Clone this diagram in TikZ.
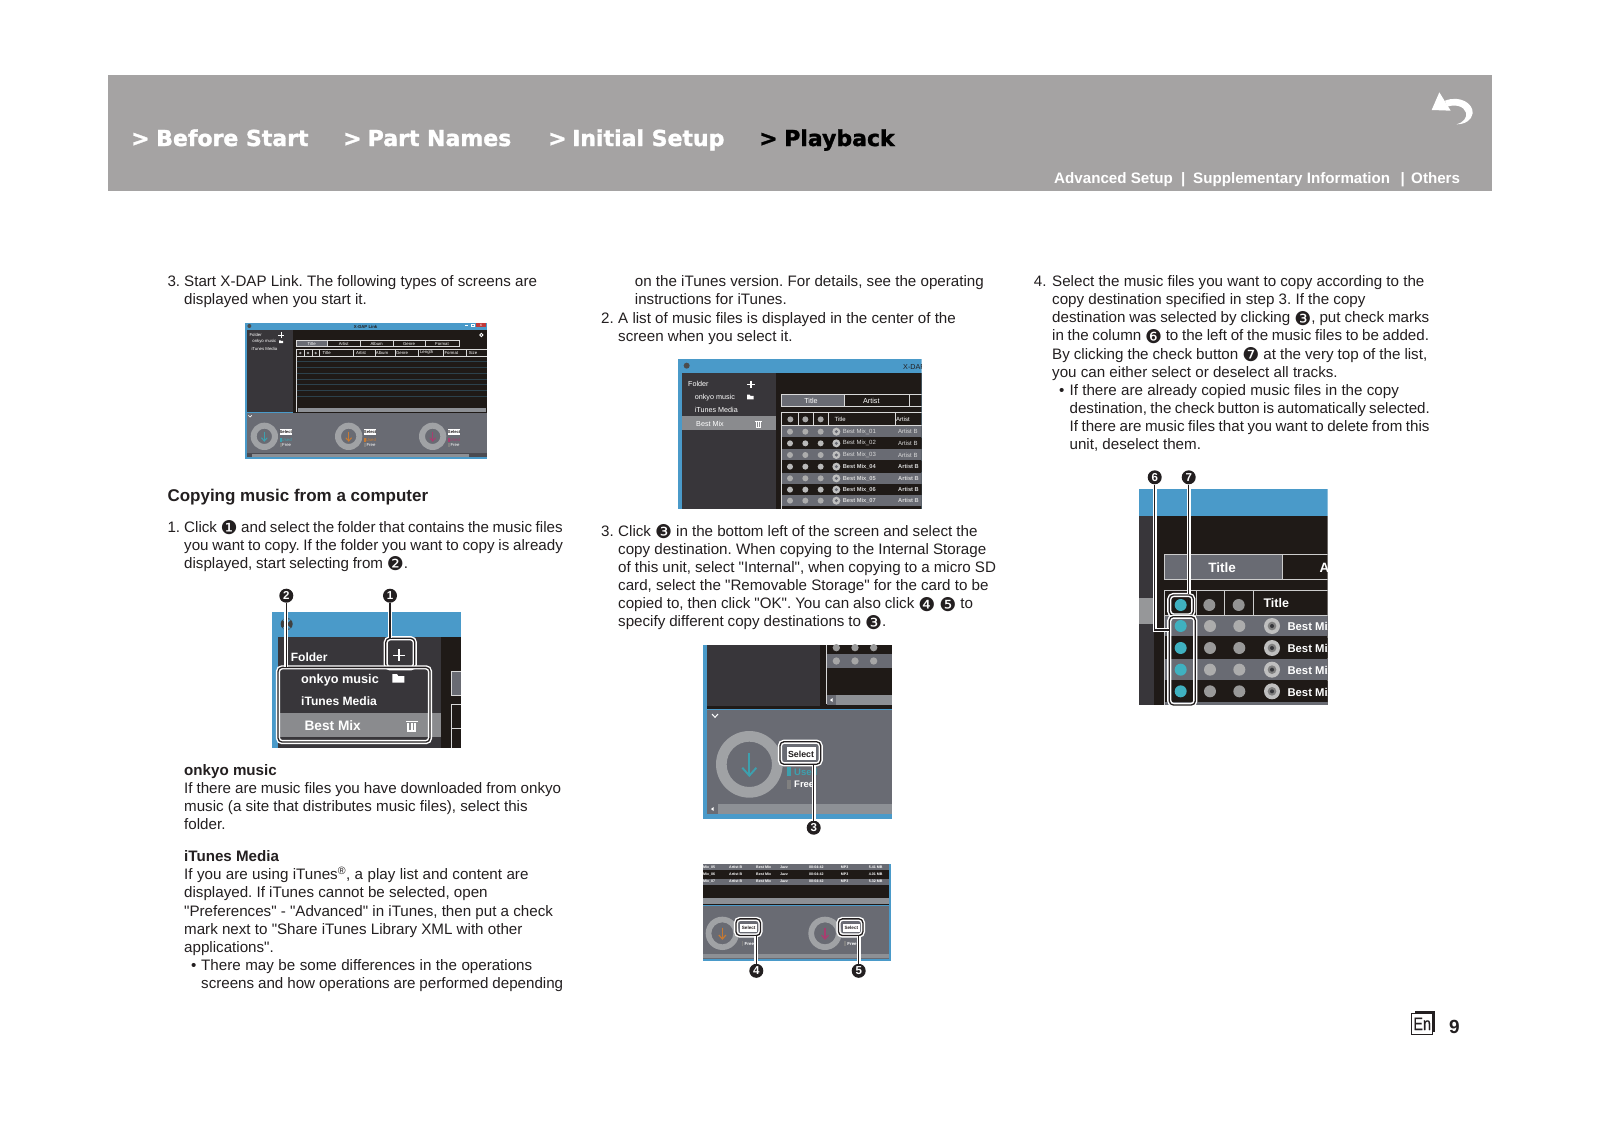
\documentclass[tikz,border=0pt]{standalone}
\usepackage{fontspec}
\setmainfont{Liberation Sans}
\newfontfamily\plainfont{Liberation Sans}
\newfontfamily\dejafont{DejaVu Sans}
\newfontfamily\dejabold[FakeBold=1.5]{DejaVu Sans Bold}
\newfontfamily\enfont[FakeStretch=.8,FakeBold=.4]{Liberation Sans}
\definecolor{ink}{HTML}{231F20}
\definecolor{bannergrey}{HTML}{A5A3A3}
\definecolor{winblue}{HTML}{4A9AC9}
\definecolor{panel}{HTML}{38363A}
\definecolor{blackbg}{HTML}{1F1A17}
\definecolor{rowgrey}{HTML}{696B73}
\definecolor{selgrey}{HTML}{8A8B8E}
\definecolor{scrollgrey}{HTML}{8D9095}
\definecolor{ringgrey}{HTML}{A0A2A5}
\definecolor{teal1}{HTML}{3DA0AE}
\definecolor{teal2}{HTML}{3FB1C0}
\definecolor{orange1}{HTML}{C87A32}
\definecolor{magenta1}{HTML}{A83D6F}
\newcommand{\bfs}[1]{\lower2.4pt\hbox{\dejafont\fontsize{19}{18.15}\selectfont #1}}
\newcommand{\sq}[2]{{\spaceskip=\dimexpr\fontdimen2\font-#1pt\relax #2}}
\newcommand{\fs}[1]{\fontsize{#1}{#1}\selectfont}
% dial: x y R r colour arrow half length arrow width
\newcommand{\dial}[7]{%
  \fill[ringgrey,even odd rule] (#1,#2) circle (#3) (#1,#2) circle (#4);
  \draw[#5,line width=#7pt] ({#1},{#2-#6}) -- ({#1},{#2+#6});
  \draw[#5,line width=#7pt] ({#1-.62*#6},{#2+.3*#6}) -- ({#1},{#2+#6}) -- ({#1+.62*#6},{#2+.3*#6});}
\newcommand{\plusicon}[4]{\draw[white,line width=#4pt] ({#1-#3},#2) -- ({#1+#3},#2) ({#1},{#2-#3}) -- ({#1},{#2+#3});}
\newcommand{\foldericon}[3]{\fill[white] ({#1-#3},{#2-.7*#3}) -- ({#1-.2*#3},{#2-.7*#3}) -- ({#1},{#2-.35*#3}) -- ({#1+#3},{#2-.35*#3}) -- ({#1+#3},{#2+.7*#3}) -- ({#1-#3},{#2+.7*#3}) -- cycle;}
\newcommand{\trashicon}[3]{%
  \fill[white] ({#1-#3},{#2-.85*#3}) rectangle ({#1+#3},{#2-.62*#3});
  \fill[white] ({#1-.75*#3},{#2-.5*#3}) rectangle ({#1-.45*#3},{#2+#3});
  \fill[white] ({#1-.15*#3},{#2-.5*#3}) rectangle ({#1+.15*#3},{#2+#3});
  \fill[white] ({#1+.45*#3},{#2-.5*#3}) rectangle ({#1+.75*#3},{#2+#3});
  \fill[white] ({#1-.75*#3},{#2+.8*#3}) rectangle ({#1+.75*#3},{#2+#3});}
\tikzset{
  page text/.style={anchor=base west,inner sep=0pt,text=ink,align=left,font=\plainfont\frenchspacing\fontsize{15.15}{18.15}\selectfont},
  nav/.style={anchor=base west,inner sep=0pt,text=white,font=\dejabold\fontsize{22}{24}\selectfont},
  sub nav/.style={anchor=base west,inner sep=0pt,text=white,font=\bfseries\fontsize{15.15}{18}\selectfont},
  badge/.style={circle,fill=ink,text=white,inner sep=0pt,minimum size=14pt,font=\bfseries\fontsize{11.5}{12}\selectfont},
  callout/.style={draw=ink,line width=1.3pt,preaction={draw=white,line width=4.2pt}},
  callbox/.style={callout,rounded corners=4pt,inner sep=0pt,fill=none},
  shot/.style={inner sep=0pt,text=white},
  shot1/.style={shot,font=\fs{4.3}},
  shot3/.style={shot,font=\fs{7.2}},
  shot5/.style={shot,font=\bfseries\fs{3.6}},
}
\begin{document}
\begin{tikzpicture}[x=1pt,y=-1pt]
\useasboundingbox (0,0) rectangle (1600,1132);
\fill[white] (0,0) rectangle (1600,1132);
% banner
\fill[bannergrey] (107.5,75) rectangle (1492,190.7);
\node[nav] (n1a) at (131,146) {>};
\node[nav] (n1) at (156,146) {Before Start};
\node[nav] (n2a) at (343,146) {>};
\node[nav] (n2) at (367.5,146) {Part Names};
\node[nav] (n3a) at (548,146) {>};
\node[nav] (n3) at (572,146) {Initial Setup};
\node[nav,text=black] (n4a) at (759,146) {>};
\node[nav,text=black] (n4) at (784,146) {Playback};
\node[sub nav] (s1) at (1054,183.5) {Advanced Setup};
\node[sub nav] (s2) at (1181,183.5) {|};
\node[sub nav] (s3) at (1193,183.5) {Supplementary Information};
\node[sub nav] (s4) at (1400.5,183.5) {|};
\node[sub nav] (s5) at (1411,183.5) {Others};
% back arrow
\begin{scope}[shift={(1390,80)},x=.33333pt,y=-.33333pt]
\fill[white] (148,37) -- (125,90) -- (182,92) -- cycle;
\fill[white] (165,62) .. controls (210,45) and (250,70) .. (248,100) .. controls (245,120) and (225,133) .. (200,133) .. controls (220,128) and (232,112) .. (228,98) .. controls (222,78) and (195,72) .. (172,80) -- cycle;
\end{scope}
% column 1
\node[page text] (t1n) at (167.3,286.5) {3.};
\node[page text] (t1) at (184,304.65) {Start X-DAP Link. The following types of screens are\\displayed when you start it.};
\node[page text,font=\bfseries\fontsize{17}{20}\selectfont] (h1) at (167.3,501) {Copying music from a computer};
\node[page text] (t2n) at (167.3,532) {1.};
\node[page text] (t2) at (184,568.3) {\sq{.65}{Click \bfs{❶} and select the folder that contains the music files}\\\sq{.42}{you want to copy. If the folder you want to copy is already}\\\sq{.5}{displayed, start selecting from \bfs{❷}.}};
\node[page text] (t3) at (184,829.45) {\textbf{onkyo music}\\\sq{.22}{If there are music files you have downloaded from onkyo}\\music (a site that distributes music files), select this\\folder.};
\node[page text] (t4) at (184,952.3) {\textbf{iTunes Media}\\\sq{-.22}{If you are using iTunes\textsuperscript{®}, a play list and content are}\\displayed. If iTunes cannot be selected, open\\"Preferences" - "Advanced" in iTunes, then put a check\\mark next to "Share iTunes Library XML with other\\applications".};
\node[page text] (t5n) at (190.8,970) {•};
\node[page text] (t5) at (201,988.15) {\sq{-.3}{There may be some differences in the operations}\\\sq{.3}{screens and how operations are performed depending}};
% column 2
\node[page text] (t6) at (634.7,304.65) {on the iTunes version. For details, see the operating\\instructions for iTunes.};
\node[page text] (t7n) at (601,323) {2.};
\node[page text] (t7) at (618,341.15) {A list of music files is displayed in the center of the\\screen when you select it.};
\node[page text] (t8n) at (601,536.2) {3.};
\node[page text] (t8) at (618,626.95) {\sq{.12}{Click \bfs{❸} in the bottom left of the screen and select the}\\copy destination. When copying to the Internal Storage\\\sq{.18}{of this unit, select "Internal", when copying to a micro SD}\\card, select the "Removable Storage" for the card to be\\\sq{.25}{copied to, then click "OK". You can also click \bfs{❹} \bfs{❺} to}\\\sq{.25}{specify different copy destinations to \bfs{❸}.}};
% column 3
\node[page text] (t9n) at (1033.7,286.5) {4.};
\node[page text] (t9) at (1052,377.25) {Select the music files you want to copy according to the\\copy destination specified in step 3. If the copy\\\sq{.25}{destination was selected by clicking \bfs{❸}, put check marks}\\\sq{.5}{in the column \bfs{❻} to the left of the music files to be added.}\\\sq{.2}{By clicking the check button \bfs{❼} at the very top of the list,}\\you can either select or deselect all tracks.};
\node[page text] (t10n) at (1059,395.4) {•};
\node[page text] (t10) at (1069.4,449.85) {\sq{-.1}{If there are already copied music files in the copy}\\\sq{.87}{destination, the check button is automatically selected.}\\\sq{.65}{If there are music files that you want to delete from this}\\unit, deselect them.};
% screenshot 1
\begin{scope}[shift={(230,310)},x=.33333pt,y=-.33333pt]
\fill[winblue] (45,38) rectangle (772,448);
\fill[panel] (52,60) rectangle (190,307);
\fill[blackbg] (190,60) rectangle (770,310);
\fill[rowgrey] (52,310) rectangle (770,442);
\fill[panel!60!rowgrey] (52,430) rectangle (770,442);
\fill[scrollgrey] (66,431) rectangle (718,442);
\fill[gray!60!black] (58,48) circle (6);
\node[shot1,text=ink,font=\bfseries\fs{4.3}] (w1) at (407,50) {X-DAP Link};
\fill[red!65!black!70!pink] (738,40) rectangle (768,52);
\node[shot1] (w1a) at (753,46) {x};
\draw[white] (706,47) -- (714,47);
\draw[white] (724,42) rectangle (732,50);
\node[shot1] (f1) at (77,76) {Folder};
\plusicon{153}{75}{8}{1}
\node[shot1] (f2) at (103,95) {onkyo music};
\foldericon{153}{95}{6}
\node[shot1] (f3) at (103,116) {iTunes Media};
\draw[white,line width=.9pt] (754,75) circle (5);
\fill[rowgrey] (199,91) rectangle (292,110);
\draw[white!85!black,line width=.5pt] (199,91) rectangle (687,110) (292,91) -- (292,110) (390,91) -- (390,110) (490,91) -- (490,110) (586,91) -- (586,110);
\foreach \tx/\tl [count=\ti] in {245/Title,341/Artist,440/Album,537/Genre,636/Format}
  \node[shot1] (a\ti) at (\tx,101) {\tl};
\draw[white!85!black,line width=.5pt] (199,119) -- (770,119) (199,138) -- (770,138) (200,119) -- (200,307);
\foreach \dx in {222,246,268,370,435,497,565,640,708} \draw[white!85!black,line width=.5pt] (\dx,119) -- (\dx,138);
\foreach \cx in {211,234,257} \fill[gray!70] (\cx,129) circle (4);
\foreach \tx/\tl [count=\ti] in {290/Title,393/Artist,456/Album,516/Genre,590/Length,664/Format,729/Size}
  \node[shot1] (b\ti) at (\tx,128) {\tl};
\foreach \ly in {153,172,190,208,224,241,259} \draw[blackbg!70!winblue,line width=.35pt] (200,\ly) -- (770,\ly);
\fill[scrollgrey] (203,293) rectangle (768,305);
\draw[white,line width=.7pt] (55,316) -- (60,321) -- (65,316);
\dial{103}{379}{41}{23}{teal1}{14}{1}
\dial{356}{379}{41}{23}{orange1}{14}{1}
\dial{608}{379}{41}{23}{magenta1}{14}{1}
\foreach \ox/\oc [count=\oi] in {150/teal1,403/orange1,655/magenta1}{
  \fill[white] (\ox,358) rectangle ({\ox+35},375);
  \node[shot1,text=ink,font=\bfseries\fs{4.2}] (sel\oi) at ({\ox+17.5},366.5) {Select};
  \fill[\oc] (\ox,383) rectangle ({\ox+5},395);
  \node[shot1,text=\oc] (use\oi) at ({\ox+20},389) {Used};
  \fill[gray] (\ox,398) rectangle ({\ox+5},410);
  \node[shot1] (fre\oi) at ({\ox+20},404) {Free};
}
\end{scope}
% screenshot 2
\begin{scope}[shift={(260,580)},x=.33333pt,y=-.33333pt]
\fill[winblue] (36,96) rectangle (602,505);
\fill[panel] (54,170) rectangle (543,505);
\fill[blackbg] (543,170) rectangle (602,505);
\fill[selgrey] (54,398) rectangle (543,470);
\fill[gray!50!black] (80,132) circle (18);
\fill[winblue] (80,132) -- (66,118) -- (94,118) -- cycle (80,132) -- (66,146) -- (94,146) -- cycle;
\node[shot,anchor=base west,font=\bfseries\fs{12}] (g1) at (92,243) {Folder};
\node[shot,anchor=base west,font=\bfseries\fs{12.7}] (g2) at (123,310) {onkyo music};
\node[shot,anchor=base west,font=\bfseries\fs{12.1}] (g3) at (123,375) {iTunes Media};
\node[shot,anchor=base west,font=\bfseries\fs{13.7}] (g4) at (133,450) {Best Mix};
\plusicon{417}{226}{18}{1.3}
\foldericon{415}{295}{18}
\trashicon{455}{437}{18}
\fill[rowgrey] (574,275) rectangle (602,345);
\draw[white!85!black,line width=.5pt] (602,275) -- (574,275) -- (574,345) -- (602,345) (602,372) -- (574,372) -- (574,505) (574,445) -- (602,445);
\end{scope}
% screenshot 3
\begin{scope}[shift={(670,350)},x=.33333pt,y=-.33333pt]
\clip (24,27) rectangle (755,478);
\fill[winblue] (24,27) rectangle (755,478);
\fill[panel] (35,70) rectangle (317,478);
\fill[blackbg] (317,70) rectangle (755,478);
\fill[selgrey] (35,198) rectangle (317,240);
\fill[gray!60!black] (50,47) circle (9);
\node[shot3,text=ink,anchor=west] (x3) at (699,50) {X-DAP Link};
\node[shot3,anchor=west] (c1) at (54,103) {Folder};
\plusicon{243}{103}{11}{1.3}
\node[shot3,anchor=west] (c2) at (74,143) {onkyo music};
\foldericon{241}{141}{10}
\node[shot3,anchor=west] (c3) at (74,179) {iTunes Media};
\node[shot3,anchor=west] (c4) at (78,223) {Best Mix};
\trashicon{265}{222}{10}
\fill[rowgrey] (334,132) rectangle (523,170);
\draw[white!85!black,line width=.5pt] (760,132) -- (334,132) -- (334,170) -- (760,170) (523,132) -- (523,170) (718,132) -- (718,170);
\node[shot3] (c5) at (423,152) {Title};
\node[shot3] (c6) at (604,152) {Artist};
\draw[white!85!black,line width=.5pt] (760,188) -- (334,188) -- (334,478) (334,226) -- (760,226) (385,188) -- (385,226) (430,188) -- (430,226) (476,188) -- (476,226) (676,188) -- (676,226);
\foreach \cx in {361,406,452} \fill[gray!70] (\cx,208) circle (9);
\node[shot3,anchor=west,font=\fs{6}] (c7) at (493,208) {Title};
\node[shot3,anchor=west,font=\fs{6}] (c8) at (678,208) {Artist};
\foreach \rn/\ry/\rf/\rc/\tf in {1/245/rowgrey/gray!65/\fs{6},2/280/blackbg/gray!55/\fs{6},3/315/rowgrey/gray!65/\fs{6},4/350/blackbg/gray!55/\bfseries\fs{5.7},5/385/rowgrey/gray!65/\bfseries\fs{5.7},6/419/blackbg/gray!55/\bfseries\fs{5.7},7/452/rowgrey/gray!65/\bfseries\fs{5.7}}{
  \fill[\rf] (336,\ry-17) rectangle (760,\ry+16);
  \foreach \cx in {360,406,452} \fill[\rc] (\cx,\ry) circle (9);
  \fill[white!75!black] (499,\ry) circle (12);
  \fill[rowgrey] (499,\ry) circle (5);
  \node[shot3,anchor=west,font=\tf,text=white!85!black] (r\rn) at (518,\ry) {Best Mix\_0\rn};
  \node[shot3,anchor=west,font=\tf,text=white!85!black] (q\rn) at (684,\ry) {Artist B};
}
\end{scope}
% screenshot 4
\begin{scope}[shift={(690,635)},x=.33333pt,y=-.33333pt]
\fill[winblue] (39,30) rectangle (605,552);
\fill[blackbg] (52,30) rectangle (605,222);
\fill[panel] (52,30) rectangle (390,213);
\draw[white!85!black,line width=.5pt] (410,30) -- (410,208);
\fill[rowgrey] (412,57) rectangle (605,98);
\foreach \cx in {439,495,551}{\fill[gray!80] (\cx,38) circle (11);\fill[gray!70] (\cx,78) circle (11);}
\fill[scrollgrey] (412,180) rectangle (605,210);
\fill[rowgrey] (412,180) rectangle (438,210);
\fill[white] (420,195) -- (428,189) -- (428,201) -- cycle;
\fill[rowgrey] (52,224) rectangle (605,538);
\draw[white,line width=1pt] (66,237) -- (75,247) -- (84,237);
\dial{178}{388}{100}{68}{teal1}{34}{1.9}
\fill[white] (290,337) rectangle (378,375);
\node[shot,text=ink,font=\bfseries\fs{8.8}] (sel) at (333,357) {Select};
\fill[teal1] (291,397) rectangle (303,423);
\node[shot,anchor=west,text=teal1,font=\bfseries\fs{9.5}] (us) at (312,410) {Used};
\fill[gray] (291,435) rectangle (303,461);
\node[shot,anchor=west,font=\bfseries\fs{9.5}] (fr) at (312,448) {Free};
\fill[scrollgrey] (85,508) rectangle (605,536);
\fill[white] (63,522) -- (71,516) -- (71,528) -- cycle;
\end{scope}
% screenshot 5
\begin{scope}[shift={(690,855)},x=.33333pt,y=-.33333pt]
\fill[winblue] (39,27) rectangle (603,318);
\fill[blackbg] (39,27) rectangle (597,150);
\foreach \ry/\rf [count=\ri] in {36/rowgrey,58/blackbg,80/rowgrey}{
  \fill[\rf] (39,\ry-9) rectangle (597,\ry+9);
}
\foreach \ry/\rn/\rs in {36/5/5.41 MB,58/6/4.01 MB,80/7/5.32 MB}{
  \node[shot5,anchor=west] (m\rn) at (39,\ry) {Mix\_0\rn};
  \node[shot5,anchor=west] (n\rn) at (117,\ry) {Artist B};
  \node[shot5,anchor=west] (o\rn) at (198,\ry) {Best Mix};
  \node[shot5,anchor=west] (p\rn) at (270,\ry) {Jazz};
  \node[shot5,anchor=west] (u\rn) at (357,\ry) {00:04:42};
  \node[shot5,anchor=west] (v\rn) at (452,\ry) {MP3};
  \node[shot5,anchor=west] (w\rn) at (536,\ry) {\rs};
}
\fill[scrollgrey] (39,128) rectangle (597,147);
\fill[rowgrey] (39,152) rectangle (597,312);
\dial{97}{235}{50}{33}{orange1}{17}{1.2}
\dial{405}{235}{50}{33}{magenta1}{17}{1.2}
\foreach \ox [count=\oi] in {150,458}{
  \fill[white] (\ox,208) rectangle ({\ox+52},230);
  \node[shot,text=ink,font=\bfseries\fs{4.6}] (sb\oi) at ({\ox+26},219) {Select};
  \fill[gray] ({\ox+5},258) rectangle ({\ox+10},272);
  \node[shot,font=\bfseries\fs{4.4}] (fb\oi) at ({\ox+28},266) {Free};
}
\fill[scrollgrey] (39,297) rectangle (597,310);
\end{scope}
% screenshot 6
\begin{scope}[shift={(1120,460)},x=.33333pt,y=-.33333pt]
\clip (57,88) rectangle (623,735);
\fill[winblue] (57,88) rectangle (623,168);
\fill[blackbg] (102,168) rectangle (623,735);
\fill[panel] (57,168) rectangle (102,735);
\fill[selgrey!90!white] (57,415) rectangle (102,492);
\fill[rowgrey] (133,284) rectangle (487,357);
\draw[white!80!black,line width=.6pt] (640,284) -- (133,284) -- (133,357) -- (640,357) (487,284) -- (487,357) (640,390) -- (133,390) -- (133,735) (133,465) -- (640,465) (229,390) -- (229,465) (314,390) -- (314,465) (400,390) -- (400,465);
\node[shot,font=\bfseries\fs{13.5}] (d1) at (306,323) {Title};
\node[shot,anchor=west,font=\bfseries\fs{13.5}] (d2) at (598,323) {A};
\fill[teal2] (182,435) circle (18);
\fill[gray!85] (268,435) circle (18);
\fill[gray!85] (356,435) circle (18);
\node[shot,anchor=west,font=\bfseries\fs{12.5}] (d3) at (430,428) {Title};
\foreach \ry/\rf/\rc [count=\rn] in {498/rowgrey/gray!65,564/blackbg/gray!80,629/rowgrey/gray!65,694/blackbg/gray!80}{
  \fill[\rf] (136,\ry-31) rectangle (640,\ry+31);
  \fill[teal2] (182,\ry) circle (18);
  \fill[\rc] (270,\ry) circle (18);
  \fill[\rc] (358,\ry) circle (18);
  \fill[white!75!black] (456,\ry) circle (24);
  \fill[gray] (456,\ry) circle (13);
  \fill[rowgrey!50!black] (456,\ry) circle (6);
  \node[shot,anchor=west,font=\bfseries\fs{11.3}] (e\rn) at (502,\ry+2) {Best Mix};
}
\fill[rowgrey] (136,727) rectangle (640,735);
\end{scope}
% callouts
\node[callbox,minimum width=29pt,minimum height=30pt] (boxplus) at (400.3,653.3) {};
\node[callbox,minimum width=152pt,minimum height=74.7pt] (boxlist) at (354,704.7) {};
\node[badge] (b1) at (390,595.7) {1};
\node[badge] (b2) at (286.3,595.7) {2};
\draw[callout] (b1.south) -- (b1.south |- boxplus.north);
\draw[callout] (b2.south) -- (b2.south |- boxlist.north);
\node[callbox,minimum width=40.7pt,minimum height=22.5pt] (boxsel) at (800.3,753) {};
\node[badge] (b3) at (813.7,827.7) {3};
\draw[callout] (b3.north) -- (b3.north |- boxsel.south);
\node[callbox,minimum width=24.5pt,minimum height=16.7pt] (boxfour) at (748.2,927.2) {};
\node[callbox,minimum width=24.5pt,minimum height=16.7pt] (boxfive) at (850.7,927.2) {};
\node[badge] (b4) at (756.3,970.8) {4};
\node[badge] (b5) at (858.7,970.8) {5};
\draw[callout] (b4.north) -- (b4.north |- boxfour.south);
\draw[callout] (b5.north) -- (b5.north |- boxfive.south);
\node[callbox,minimum width=24pt,minimum height=20.3pt] (boxseven) at (1181.3,605.2) {};
\node[callbox,minimum width=26pt,minimum height=88.3pt] (boxsix) at (1182.3,660.8) {};
\node[badge] (b6) at (1154.7,477.3) {6};
\node[badge] (b7) at (1188.7,477.3) {7};
\coordinate (c6) at (1169.3,630);
\draw[callout] (b6.south) |- (c6);
\draw[callout] (b7.south) -- (b7.south |- boxseven.north);
% page number
\fill[ink] (1415,1011) rectangle (1435,1031.7);
\node[draw=ink,line width=1pt,fill=white,text=ink,minimum width=21pt,minimum height=21pt,inner sep=0pt,font=\enfont\fontsize{18}{20}\selectfont] (en) at (1422.2,1023.8) {En};
\node[anchor=base,inner sep=0pt,text=ink,font=\bfseries\fontsize{19}{20}\selectfont] (pg) at (1454.3,1033) {9};
\end{tikzpicture}
\end{document}
